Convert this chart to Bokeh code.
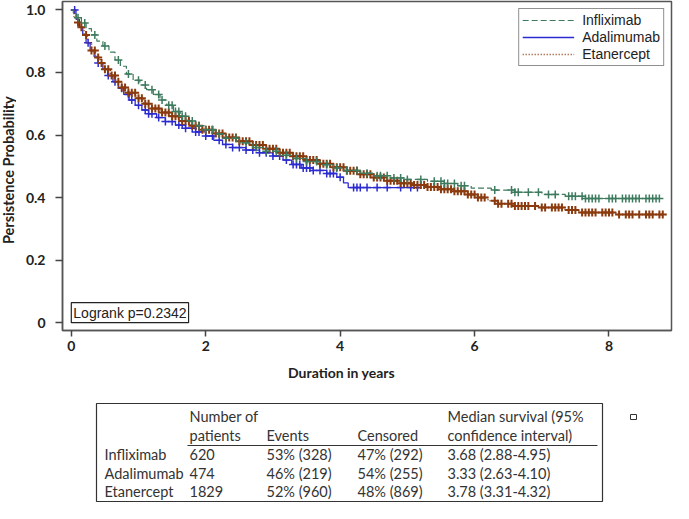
import numpy as np
from bokeh.plotting import figure
from bokeh.layouts import column, row
from bokeh.models import Range1d, FixedTicker, PrintfTickFormatter, Legend, LegendItem, Label
from bokeh.core.properties import value
from bokeh.embed import file_html
from bokeh.resources import INLINE

# ---------------- data ----------------
series_names = ["Infliximab", "Adalimumab", "Etanercept"]

inf_t = [0, 0.03, 0.08, 0.15, 0.22, 0.3, 0.38, 0.47, 0.56, 0.65, 0.73, 0.82, 0.92, 1.02, 1.12, 1.22, 1.32,
         1.42, 1.52, 1.62, 1.72, 1.85, 2.0, 2.15, 2.3, 2.5, 2.7, 2.9, 3.1, 3.3, 3.5, 3.7, 3.9, 4.1, 4.3,
         4.5, 4.75, 5.0, 5.3, 5.55, 5.75, 5.95, 6.25, 6.6, 7.0, 7.35, 7.65]
inf_s = [1.0, 0.99, 0.975, 0.958, 0.94, 0.92, 0.90, 0.885, 0.865, 0.84, 0.82, 0.795, 0.775, 0.76, 0.745,
         0.73, 0.712, 0.695, 0.675, 0.66, 0.645, 0.63, 0.617, 0.603, 0.59, 0.575, 0.56, 0.548, 0.535, 0.525,
         0.515, 0.505, 0.495, 0.487, 0.478, 0.47, 0.463, 0.458, 0.452, 0.445, 0.438, 0.43, 0.424, 0.417,
         0.41, 0.404, 0.397]
inf_end = 8.82
inf_cens = [0.1, 0.2, 0.35, 0.5, 0.7, 0.85, 1.0, 1.1, 1.2, 1.3, 1.35, 1.45, 1.5, 1.55, 1.6, 1.65, 1.7, 1.8,
            1.9, 2.0, 2.1, 2.2, 2.3, 2.45, 2.6, 2.75, 2.9, 3.05, 3.2, 3.35, 3.5, 3.65, 3.8, 3.95, 4.1, 4.25,
            4.4, 4.55, 4.6, 4.7, 4.8, 4.9, 5.0, 5.2, 5.4, 5.5, 5.55, 5.6, 5.7, 5.8, 5.85, 6.3, 6.55, 6.6,
            6.65, 6.8, 6.95, 7.1, 7.2, 7.4, 7.45, 7.5, 7.6, 7.65, 7.7, 7.75, 7.8, 7.85, 8.0, 8.05, 8.1,
            8.2, 8.25, 8.3, 8.35, 8.4, 8.45, 8.55, 8.6, 8.65, 8.7, 8.75]

ada_t = [0, 0.07, 0.12, 0.17, 0.22, 0.28, 0.34, 0.4, 0.47, 0.54, 0.62, 0.7, 0.78, 0.86, 0.95, 1.05, 1.15,
         1.27, 1.4, 1.55, 1.7, 1.85, 2.0, 2.12, 2.25, 2.4, 2.6, 2.8, 3.0, 3.15, 3.28, 3.42, 3.6, 3.8, 3.95,
         4.05, 4.12]
ada_s = [1.0, 0.97, 0.945, 0.92, 0.895, 0.87, 0.85, 0.83, 0.81, 0.79, 0.77, 0.75, 0.73, 0.712, 0.695, 0.68,
         0.668, 0.656, 0.643, 0.632, 0.622, 0.61, 0.597, 0.583, 0.57, 0.56, 0.552, 0.543, 0.533, 0.52, 0.506,
         0.495, 0.487, 0.477, 0.465, 0.447, 0.432]
ada_end = 5.2
ada_cens = [0.05, 0.25, 0.4, 0.55, 0.65, 0.75, 0.85, 0.9, 1.0, 1.1, 1.15, 1.2, 1.3, 1.4, 1.5, 1.6, 1.65,
            1.7, 1.8, 1.85, 1.9, 2.0, 2.1, 2.2, 2.3, 2.4, 2.5, 2.6, 2.7, 2.8, 2.9, 3.0, 3.1, 3.2, 3.3, 3.35,
            3.4, 3.45, 3.5, 3.55, 3.6, 3.7, 3.8, 3.85, 3.9, 4.0, 4.2, 4.25, 4.3, 4.4, 4.55, 4.7, 4.9, 5.05,
            5.15]

eta_t = [0, 0.04, 0.09, 0.14, 0.19, 0.24, 0.3, 0.36, 0.43, 0.5, 0.58, 0.66, 0.75, 0.85, 0.96, 1.08, 1.2,
         1.33, 1.47, 1.62, 1.78, 1.95, 2.12, 2.3, 2.5, 2.7, 2.9, 3.1, 3.3, 3.5, 3.7, 3.9, 4.1, 4.3, 4.5, 4.7,
         4.9, 5.1, 5.3, 5.5, 5.7, 5.9, 6.05, 6.2, 6.35, 6.6, 6.95, 7.35, 7.55, 8.1]
eta_s = [1.0, 0.975, 0.96, 0.945, 0.92, 0.895, 0.87, 0.848, 0.83, 0.81, 0.79, 0.77, 0.752, 0.735, 0.718, 0.7,
         0.685, 0.672, 0.66, 0.645, 0.63, 0.617, 0.605, 0.592, 0.58, 0.568, 0.556, 0.543, 0.532, 0.52, 0.508,
         0.497, 0.486, 0.475, 0.464, 0.454, 0.446, 0.44, 0.434, 0.427, 0.42, 0.41, 0.4, 0.39, 0.38, 0.373,
         0.368, 0.36, 0.352, 0.346]
eta_end = 8.85
eta_cens = [0.1, 0.15, 0.22, 0.3, 0.35, 0.4, 0.45, 0.5, 0.55, 0.6, 0.65, 0.7, 0.75, 0.8, 0.85, 0.9, 0.95,
            1.0, 1.05, 1.1, 1.15, 1.2, 1.25, 1.3, 1.35, 1.4, 1.45, 1.5, 1.55, 1.6, 1.65, 1.7, 1.75, 1.8,
            1.85, 1.9, 1.95, 2.0, 2.05, 2.1, 2.15, 2.2, 2.25, 2.3, 2.35, 2.4, 2.45, 2.5, 2.55, 2.6, 2.65,
            2.7, 2.75, 2.8, 2.85, 2.9, 2.95, 3.0, 3.05, 3.1, 3.15, 3.2, 3.25, 3.3, 3.35, 3.4, 3.45, 3.5,
            3.55, 3.6, 3.65, 3.7, 3.75, 3.8, 3.85, 3.9, 3.95, 4.0, 4.05, 4.1, 4.15, 4.2, 4.25, 4.3, 4.35,
            4.4, 4.45, 4.5, 4.55, 4.6, 4.65, 4.7, 4.75, 4.8, 4.85, 4.9, 4.95, 5.0, 5.05, 5.1, 5.15, 5.2,
            5.25, 5.3, 5.35, 5.4, 5.45, 5.5, 5.55, 5.6, 5.65, 5.7, 5.75, 5.8, 5.85, 5.9, 5.95, 6.0, 6.05,
            6.1, 6.15, 6.3, 6.35, 6.4, 6.5, 6.55, 6.6, 6.65, 6.7, 6.75, 6.8, 6.9, 7.0, 7.05, 7.15, 7.2,
            7.25, 7.3, 7.4, 7.45, 7.5, 7.6, 7.65, 7.7, 7.75, 7.8, 7.9, 7.95, 8.0, 8.05, 8.15, 8.25, 8.3,
            8.35, 8.45, 8.55, 8.6, 8.65, 8.75, 8.8]

logrank_text = "Logrank p=0.2342"
x_ticks = [0, 2, 4, 6, 8]
y_ticks = [0, 0.2, 0.4, 0.6, 0.8, 1.0]

table_header1 = ["", "Number of", "", "", "Median survival (95%"]
table_header2 = ["", "patients", "Events", "Censored", "confidence interval)"]
table_rows = [
    ["Infliximab", "620", "53% (328)", "47% (292)", "3.68 (2.88-4.95)"],
    ["Adalimumab", "474", "46% (219)", "54% (255)", "3.33 (2.63-4.10)"],
    ["Etanercept", "1829", "52% (960)", "48% (869)", "3.78 (3.31-4.32)"],
]

# ---------------- styles ----------------
C_INF = "#3d7a5e"
C_ADA = "#2b2bd0"
C_ETA = "#8b3a0e"
BOLD_FONT = "Lato"
LEG_FONT = "Liberation Sans"

# ---------------- y title figure (pixel coords) ----------------
yfig = figure(width=16, height=357, x_range=Range1d(0, 16), y_range=Range1d(357, 0),
              output_backend="svg", toolbar_location=None, min_border=0)
yfig.axis.visible = False
yfig.grid.visible = False
yfig.outline_line_color = None
yfig.text(x=[8], y=[183], text=["Persistence Probability"], angle=np.pi / 2,
          text_font=value(BOLD_FONT), text_font_style="bold", text_font_size="14.5px",
          text_align="center", text_baseline="middle", text_color="#222222")

# ---------------- chart ----------------
p = figure(width=657, height=357, output_backend="svg", toolbar_location=None,
           x_range=Range1d(-0.131, 8.93), y_range=Range1d(-0.025, 1.027),
           min_border_left=46, min_border_right=2, min_border_top=1, min_border_bottom=27)
p.grid.visible = False
p.outline_line_color = "#555555"
p.outline_line_width = 1.5

def km_step(t, s, end):
    return list(t) + [end], list(s) + [s[-1]]

def cens_y(t, s, c):
    idx = np.searchsorted(np.array(t), np.array(c), side="right") - 1
    return list(np.array(s)[idx])

ax, ay = km_step(ada_t, ada_s, ada_end)
r_ada = p.step(ax, ay, mode="after", line_color=C_ADA, line_width=1.3)
p.scatter(ada_cens, cens_y(ada_t, ada_s, ada_cens), marker="cross", size=8, line_color=C_ADA, line_width=1.5)

ex, ey = km_step(eta_t, eta_s, eta_end)
r_eta = p.step(ex, ey, mode="after", line_color=C_ETA, line_width=1.5, line_dash="1 2")
p.scatter(eta_cens, cens_y(eta_t, eta_s, eta_cens), marker="cross", size=8, line_color=C_ETA, line_width=2)

ix, iy = km_step(inf_t, inf_s, inf_end)
r_inf = p.step(ix, iy, mode="after", line_color=C_INF, line_width=1.2, line_dash="6 3")
p.scatter(inf_cens, cens_y(inf_t, inf_s, inf_cens), marker="cross", size=8, line_color=C_INF, line_width=1.5)

legend = Legend(items=[LegendItem(label=series_names[0], renderers=[r_inf]),
                       LegendItem(label=series_names[1], renderers=[r_ada]),
                       LegendItem(label=series_names[2], renderers=[r_eta])],
                location="top_right", border_line_color="#222222", border_line_width=1.2,
                label_text_font=LEG_FONT, label_text_font_size="14px", label_text_color="#222222",
                glyph_width=52, glyph_height=14, label_height=14, padding=3, spacing=1,
                label_standoff=8, margin=7, background_fill_alpha=1)
p.add_layout(legend)

p.add_layout(Label(x=0, y=0, text=logrank_text, text_font=LEG_FONT, text_font_size="14px",
                   text_color="#222222", border_line_color="#222222", border_line_width=1.2,
                   padding=2, background_fill_color="white"))

for axis in (p.xaxis[0], p.yaxis[0]):
    axis.axis_line_color = "#555555"
    axis.axis_line_width = 1.5
    axis.major_tick_line_color = "#444444"
    axis.major_tick_line_width = 1.5
    axis.major_tick_in = 0
    axis.minor_tick_line_color = None
    axis.major_label_text_font = BOLD_FONT
    axis.major_label_text_font_style = "bold"
    axis.major_label_text_font_size = "14px"
    axis.major_label_text_color = "#222222"

p.xaxis.ticker = FixedTicker(ticks=x_ticks)
p.xaxis.major_tick_out = 6
p.xaxis.major_label_standoff = 4
p.yaxis.ticker = FixedTicker(ticks=y_ticks)
p.yaxis.formatter = PrintfTickFormatter(format="%.1f")
p.yaxis.major_label_overrides = {0: "0"}
p.yaxis.major_tick_out = 7
p.yaxis.major_label_standoff = 10

# ---------------- table + x title (pixel coords) ----------------
t = figure(width=673, height=146, x_range=Range1d(0, 673), y_range=Range1d(503, 357),
           output_backend="svg", toolbar_location=None, min_border=0)
t.axis.visible = False
t.grid.visible = False
t.outline_line_color = None

t.text(x=[341], y=[372], text=["Duration in years"], text_font=value(BOLD_FONT), text_font_style="bold",
       text_font_size="14px", text_align="center", text_baseline="middle", text_color="#222222")

col_x = [104, 189, 266, 357, 447]
t.quad(left=[96], right=[602], top=[403], bottom=[501], fill_color=None, line_color="#333333", line_width=1.2)
t.segment(x0=[187], x1=[597], y0=[445], y1=[445], line_color="#333333", line_width=1.2)
t.quad(left=[630], right=[636], top=[414], bottom=[419], fill_color=None, line_color="#333333", line_width=1)

tfont = dict(text_font=value("Lato"), text_font_size="14.5px", text_align="left",
             text_baseline="middle", text_color="#333333")
t.text(x=col_x, y=[416] * 5, text=table_header1, **tfont)
t.text(x=col_x, y=[435] * 5, text=table_header2, **tfont)
for yy, rr in zip([454, 473, 491], table_rows):
    t.text(x=col_x, y=[yy] * 5, text=rr, **tfont)

layout = column(row(yfig, p, spacing=0), t, spacing=0)
open("out.html", "w").write(file_html(layout, INLINE))
